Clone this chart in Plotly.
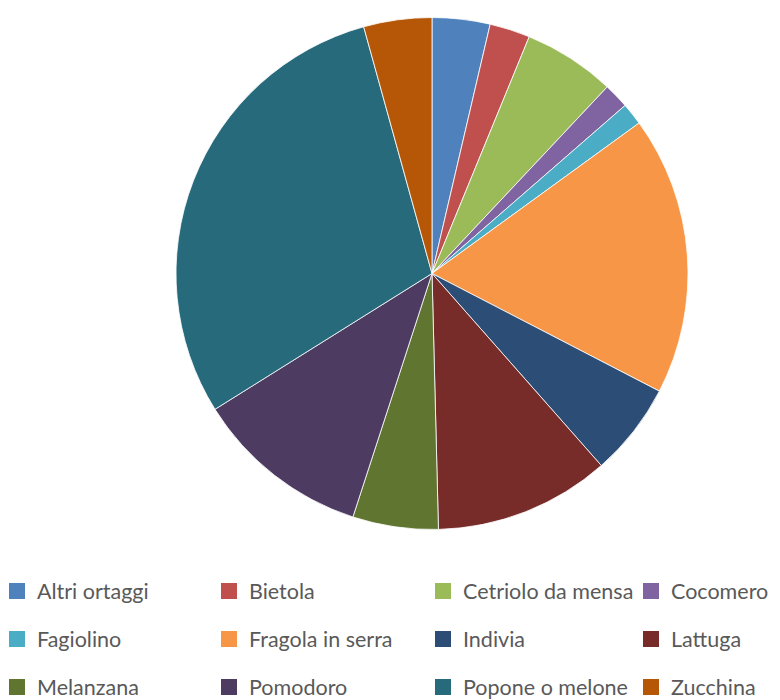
import plotly.graph_objects as go

categories = ["Altri ortaggi", "Bietola", "Cetriolo da mensa", "Cocomero",
              "Fagiolino", "Fragola in serra", "Indivia", "Lattuga",
              "Melanzana", "Pomodoro", "Popone o melone", "Zucchina"]
values = [3.65, 2.55, 5.8, 1.6, 1.4, 17.6, 5.9, 11.1, 5.4, 11.1, 29.6, 4.3]
colors = ["#4F81BD", "#C0504D", "#9BBB59", "#8064A2", "#4BACC6", "#F79646",
          "#2C4D75", "#772C2A", "#5F7530", "#4D3B62", "#276A7C", "#B65708"]

# the page adds an 8px body margin; make the figure a bit larger so the
# visible 780x700 window matches the reference
OFF = 8
W, H = 820, 720
cx, cy, r = 432 - OFF, 273.5 - OFF, 256

fig = go.Figure()
fig.add_trace(go.Pie(
    labels=categories, values=values, sort=False, direction="clockwise",
    rotation=0, textinfo="none", hoverinfo="label+percent",
    marker=dict(colors=colors, line=dict(color="white", width=0.8)),
    domain=dict(x=[(cx - r) / W, (cx + r) / W], y=[1 - (cy + r) / H, 1 - (cy - r) / H]),
    showlegend=False,
))

ncol = 4
col_text_x = [36, 248, 462, 670]
legend_names = ["legend"] + [f"legend{k}" for k in range(2, ncol + 1)]
for i, (name, col) in enumerate(zip(categories, colors)):
    c = i % ncol
    fig.add_trace(go.Scatter(
        x=[None], y=[None], mode="markers", name=name, legendgroup=name,
        marker=dict(symbol="square", size=16, color=col),
        legend=legend_names[c], hoverinfo="skip",
    ))

legend_top = 570.5 - OFF
layout_legends = {}
for c in range(ncol):
    layout_legends[legend_names[c]] = dict(
        orientation="v", x=(col_text_x[c] - 39 - OFF) / W, xanchor="left",
        y=1 - legend_top / H, yanchor="top",
        font=dict(family="Lato, 'Open Sans', sans-serif", size=21.5, color="#595959"),
        bgcolor="rgba(0,0,0,0)", tracegroupgap=17, traceorder="grouped",
        itemclick=False, itemdoubleclick=False,
    )

fig.update_layout(
    width=W, height=H,
    margin=dict(l=0, r=0, t=0, b=0, autoexpand=False),
    paper_bgcolor="white", plot_bgcolor="white",
    xaxis=dict(visible=False), yaxis=dict(visible=False),
    **layout_legends,
)
fig.write_html("out.html")
